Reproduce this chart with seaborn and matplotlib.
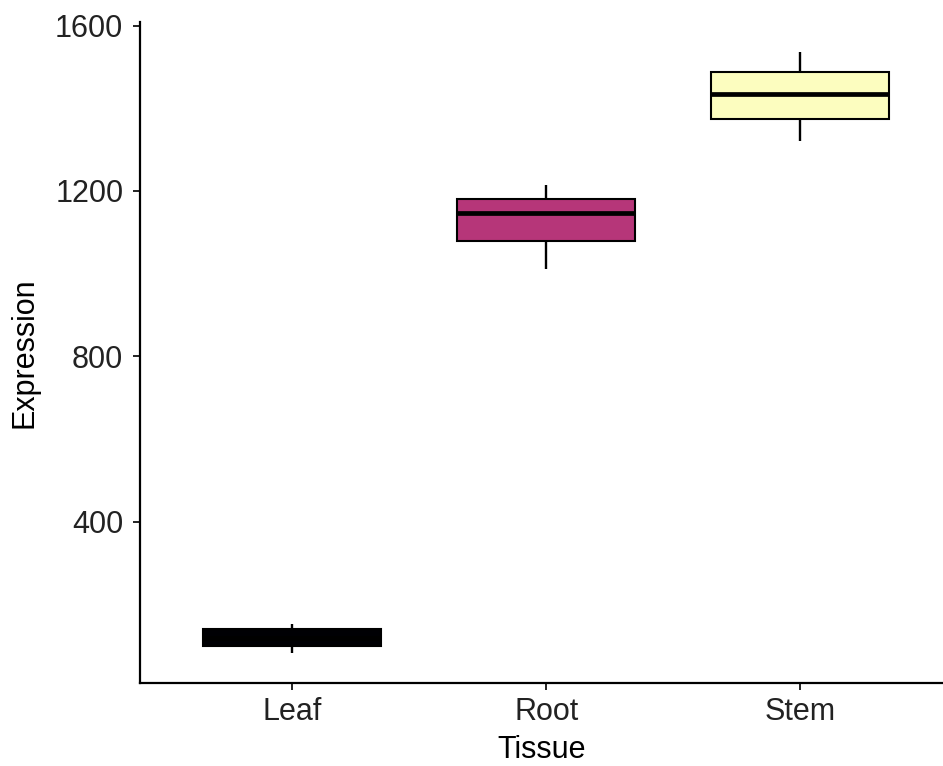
import matplotlib
matplotlib.use("Agg")
import matplotlib.pyplot as plt
import seaborn as sns
import pandas as pd

# Five-number summaries per tissue: lower whisker, Q1, median, Q3, upper whisker
tissues = ["Leaf", "Root", "Stem"]
leaf_values = [83, 100, 118, 141, 153]
root_values = [1011, 1079, 1147, 1181, 1215]
stem_values = [1321, 1374, 1434, 1487, 1536]
tissue_colors = ["#000004", "#B63679", "#FCFDBF"]
y_ticks = [400, 800, 1200, 1600]
y_tick_labels = ["400", "800", "1200", "1600"]

df = pd.DataFrame({
    "Tissue": [t for t, vals in zip(tissues, [leaf_values, root_values, stem_values]) for _ in vals],
    "Expression": leaf_values + root_values + stem_values,
})

sns.set_style("white")
plt.rcParams["font.family"] = ["Liberation Sans", "DejaVu Sans"]

W, H = 943, 766
fig = plt.figure(figsize=(W / 100, H / 100), dpi=100)
left_px, right_px, top_px, bottom_px = 140, 943, 21.8, 683
ax = fig.add_axes([left_px / W, (H - bottom_px) / H,
                   (right_px - left_px) / W, (bottom_px - top_px) / H])

sns.boxplot(
    data=df, x="Tissue", y="Expression", hue="Tissue", order=tissues,
    hue_order=tissues, palette=tissue_colors, saturation=1, legend=False,
    width=0.7, whis=1.5, linecolor="black", linewidth=1.5, ax=ax,
    medianprops={"linewidth": 3.4, "color": "black"},
    whiskerprops={"linewidth": 1.7, "color": "black"},
    capprops={"visible": False},
    showfliers=False,
)

ax.set_xlim(-0.6, 2 + 143 / 254)
ax.set_ylim(10, 1609)
ax.set_yticks(y_ticks)
ax.set_yticklabels(y_tick_labels)

for side in ["top", "right"]:
    ax.spines[side].set_visible(False)
for side in ["left", "bottom"]:
    ax.spines[side].set_linewidth(1.6)
    ax.spines[side].set_color("black")

ax.tick_params(axis="both", which="both", length=5, width=1.4, color="#222222",
               labelsize=22, labelcolor="#222222", direction="out")
ax.tick_params(axis="y", pad=7, left=True)
ax.tick_params(axis="x", pad=5, bottom=True)

ax.set_xlabel("Tissue", fontsize=22, color="black", labelpad=6)
ax.set_ylabel("Expression", fontsize=22, color="black", labelpad=11)

fig.savefig("out.png", dpi=100)
